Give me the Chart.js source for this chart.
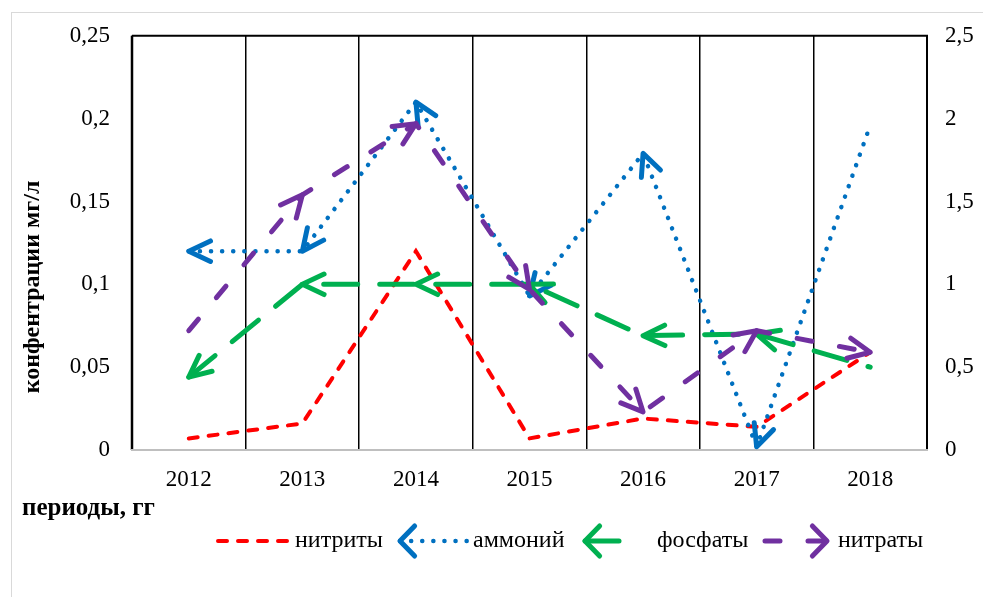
<!DOCTYPE html>
<html>
<head>
<meta charset="utf-8">
<script src="https://cdn.jsdelivr.net/npm/chart.js@4/dist/chart.umd.min.js"></script>
<style>
  html, body { margin: 0; padding: 0; background: #fff; overflow: hidden; }
  #wrap { position: relative; width: 983px; height: 597px; }
  #frame { position: absolute; left: 11px; top: 12px; width: 1000px; height: 620px;
           border: 1px solid #d9d9d9; box-sizing: border-box; }
  #c { position: absolute; left: 0; top: 0; }
</style>
</head>
<body>
<div id="wrap">
  <div id="frame"></div>
  <canvas id="c" width="983" height="597"></canvas>
</div>
<script>
// Years of observation
const years = ['2012', '2013', '2014', '2015', '2016', '2017', '2018'];

// Concentrations, mg/l (left axis)
const nitrites   = [0.007, 0.016, 0.12, 0.007, 0.019, 0.014, 0.059];
const ammonium   = [0.12, 0.12, 0.21, 0.093, 0.179, 0.002, 0.196];
const phosphates = [0.044, 0.1, 0.1, 0.1, 0.069, 0.07, 0.05];
// Nitrates, mg/l (right axis)
const nitrates   = [0.72, 1.54, 1.97, 0.97, 0.23, 0.72, 0.59];

const leftTicks  = [0, 0.05, 0.1, 0.15, 0.2, 0.25];
const rightTicks = [0, 0.5, 1, 1.5, 2, 2.5];

const seriesNames = ['нитриты', 'аммоний', 'фосфаты', 'нитраты'];
const xTitle = 'периоды, гг';
const yTitle = 'конфентрации мг/л';

const FONT = "'Liberation Serif', 'Times New Roman', serif";
const fmt = v => String(Number(v.toFixed(2))).replace('.', ',');

// Open "V" arrowhead with its tip at (x, y), pointing along angle ang
function arrowHead(ctx, x, y, ang, len, half, color, width) {
  ctx.save();
  ctx.strokeStyle = color;
  ctx.lineWidth = width;
  ctx.lineCap = 'round';
  ctx.lineJoin = 'round';
  ctx.setLineDash([]);
  ctx.beginPath();
  ctx.moveTo(x - len * Math.cos(ang - half), y - len * Math.sin(ang - half));
  ctx.lineTo(x, y);
  ctx.lineTo(x - len * Math.cos(ang + half), y - len * Math.sin(ang + half));
  ctx.stroke();
  ctx.restore();
}

// Plot frame: black top/left/right edges and a grey category axis line
const framePlugin = {
  id: 'frame',
  beforeDatasetsDraw(chart) {
    const { ctx, chartArea: a } = chart;
    ctx.save();
    ctx.strokeStyle = '#000';
    ctx.lineWidth = 2.5;
    ctx.beginPath();
    ctx.moveTo(a.left, a.bottom); ctx.lineTo(a.left, a.top);
    ctx.stroke();
    ctx.lineWidth = 2;
    ctx.beginPath();
    ctx.moveTo(a.left, a.top); ctx.lineTo(a.right, a.top); ctx.lineTo(a.right, a.bottom);
    ctx.stroke();
    ctx.strokeStyle = '#bfbfbf';
    ctx.lineWidth = 2;
    ctx.beginPath();
    ctx.moveTo(a.left - 1, a.bottom); ctx.lineTo(a.right + 1, a.bottom);
    ctx.stroke();
    ctx.restore();
  }
};

// Arrowheads on every line segment: at its start ('begin') or its end ('end')
const arrowPlugin = {
  id: 'segArrows',
  afterDatasetDraw(chart, args) {
    const ds = chart.data.datasets[args.index];
    if (!ds.arrowAt) return;
    const pts = args.meta.data;
    const ctx = chart.ctx;
    for (let i = 0; i < pts.length - 1; i++) {
      const p = pts[i], q = pts[i + 1];
      if (ds.arrowAt === 'begin') {
        arrowHead(ctx, p.x, p.y, Math.atan2(p.y - q.y, p.x - q.x), 24, 0.44, ds.borderColor, 5);
      } else {
        arrowHead(ctx, q.x, q.y, Math.atan2(q.y - p.y, q.x - p.x), 24, 0.44, ds.borderColor, 5);
      }
    }
  }
};

// Axis titles and the legend row under the chart
const textPlugin = {
  id: 'texts',
  afterDraw(chart) {
    const ctx = chart.ctx;
    ctx.save();
    ctx.fillStyle = '#000';
    ctx.textBaseline = 'middle';
    ctx.textAlign = 'left';
    ctx.font = 'bold 25px ' + FONT;
    ctx.fillText(xTitle, 22, 509);

    ctx.save();
    ctx.translate(33, 287);
    ctx.rotate(-Math.PI / 2);
    ctx.textAlign = 'center';
    ctx.font = 'bold 24px ' + FONT;
    ctx.fillText(yTitle, 0, 0);
    ctx.restore();

    // legend
    const items = [
      { x0: 218, x1: 288, tx: 295 },
      { x0: 400, x1: 468, tx: 473 },
      { x0: 585, x1: 630, tx: 657 },
      { x0: 765, x1: 827, tx: 838 }
    ];
    const ly = 541;
    chart.data.datasets.forEach((ds, i) => {
      const it = items[i];
      ctx.save();
      ctx.strokeStyle = ds.borderColor;
      ctx.lineWidth = ds.borderWidth;
      ctx.lineCap = ds.borderCapStyle || 'butt';
      ctx.setLineDash(ds.borderDash || []);
      ctx.beginPath();
      ctx.moveTo(it.x0, ly); ctx.lineTo(it.x1, ly);
      ctx.stroke();
      ctx.restore();
      if (ds.arrowAt === 'begin') arrowHead(ctx, it.x0, ly, Math.PI, 21, 0.8, ds.borderColor, 5);
      if (ds.arrowAt === 'end') arrowHead(ctx, it.x1, ly, 0, 21, 0.8, ds.borderColor, 5);
      ctx.fillStyle = '#000';
      ctx.font = '24px ' + FONT;
      ctx.textAlign = 'left';
      ctx.textBaseline = 'middle';
      ctx.fillText(seriesNames[i], it.tx, ly);
    });
    ctx.restore();
  }
};

new Chart(document.getElementById('c'), {
  type: 'line',
  data: {
    labels: years,
    datasets: [
      { label: seriesNames[0], data: nitrites, yAxisID: 'y', order: 4,
        borderColor: '#ff0000', borderWidth: 4, borderDash: [9, 11], borderCapStyle: 'round' },
      { label: seriesNames[1], data: ammonium, yAxisID: 'y', order: 3, arrowAt: 'begin',
        borderColor: '#0070c0', borderWidth: 4.5, borderDash: [0.1, 11], borderCapStyle: 'round' },
      { label: seriesNames[2], data: phosphates, yAxisID: 'y', order: 2, arrowAt: 'begin',
        borderColor: '#00b050', borderWidth: 5, borderDash: [34, 22], borderCapStyle: 'round' },
      { label: seriesNames[3], data: nitrates, yAxisID: 'y2', order: 1, arrowAt: 'end',
        borderColor: '#7030a0', borderWidth: 5, borderDash: [15, 28], borderCapStyle: 'round' }
    ]
  },
  options: {
    responsive: false,
    animation: false,
    devicePixelRatio: 1,
    layout: { padding: { top: 35, bottom: 107, left: 0, right: 0 } },
    elements: { point: { radius: 0, hoverRadius: 0 }, line: { tension: 0, fill: false } },
    plugins: { legend: { display: false }, tooltip: { enabled: false } },
    scales: {
      x: {
        offset: true,
        grid: { display: true, offset: true, color: '#000', lineWidth: 1.5, drawTicks: false },
        border: { display: false },
        ticks: { color: '#000', font: { family: FONT, size: 23 }, padding: 16, maxRotation: 0 },
        afterFit: s => { s.height = 40; }
      },
      y: {
        position: 'left', min: 0, max: 0.25,
        afterBuildTicks: s => { s.ticks = leftTicks.map(v => ({ value: v })); },
        grid: { display: false, drawTicks: false },
        border: { display: false },
        ticks: { color: '#000', font: { family: FONT, size: 23 }, padding: 22, callback: v => fmt(v) },
        afterFit: s => { s.width = 132; }
      },
      y2: {
        position: 'right', min: 0, max: 2.5,
        afterBuildTicks: s => { s.ticks = rightTicks.map(v => ({ value: v })); },
        grid: { display: false, drawTicks: false },
        border: { display: false },
        ticks: { color: '#000', font: { family: FONT, size: 23 }, padding: 18, callback: v => fmt(v) },
        afterFit: s => { s.width = 56; }
      }
    }
  },
  plugins: [framePlugin, arrowPlugin, textPlugin]
});
</script>
</body>
</html>
